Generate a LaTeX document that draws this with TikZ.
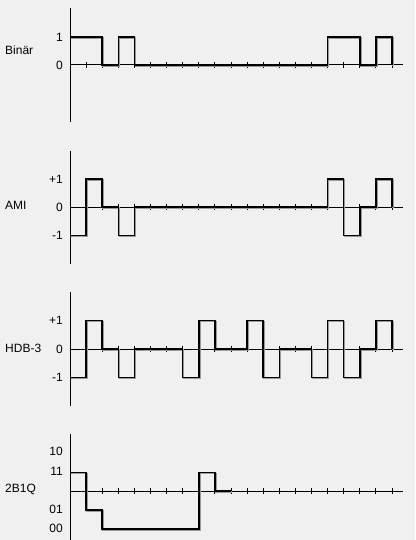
\documentclass[tikz,border=0pt]{standalone}
\usepackage{fontspec}
\setmainfont{Liberation Sans}
\usepackage{tikz}
\usetikzlibrary{positioning}
\definecolor{bgcol}{HTML}{F0F0F0}
\definecolor{shadecol}{HTML}{9A9A9A}

% line code with its grey shadow
\newcommand{\signal}[1]{\draw[sigshade, shift={(1,1)}] #1; \draw[sig] #1;}

\begin{document}
\begin{tikzpicture}[
    x=1pt, y=-1pt,
    axis/.style={line width=1pt, black},
    sig/.style={line width=1.5pt, black},
    sigshade/.style={line width=1.5pt, shadecol},
    lvl/.style={anchor=east, inner sep=0pt, font=\fontsize{12}{14}\selectfont},
    title/.style={anchor=west, inner sep=0pt, font=\fontsize{12}{14}\selectfont},
]

\fill[bgcol] (0,0) rectangle (415,540);
\useasboundingbox (0,0) rectangle (415,540);

% Binary
\begin{scope}[shift={(70,65)}]
\draw[axis] (0,-57) -- (0,57);
\draw[axis] (0,0) -- (333,0);
\foreach \k in {1,...,20} \draw[axis] ({16.1*\k},-3) -- ({16.1*\k},3);
\node[title] (bin) at (-65,-15) {Binär};
\node[lvl] (bin-one) at (-7,-28) {1};
\node[lvl] (bin-zero) at (-7,0) {0};
\signal{(0,-28) -| (32.2,0) -| (48.3,-28) -| (64.4,0) -| (257.6,-28) -| (289.8,0) -| (305.9,-28) -| (322,0)}
\end{scope}

% AMI
\begin{scope}[shift={(70,207)}]
\draw[axis] (0,-56) -- (0,57);
\draw[axis] (0,0) -- (333,0);
\foreach \k in {1,...,20} \draw[axis] ({16.1*\k},-3) -- ({16.1*\k},3);
\node[title] (ami) at (-65,-2) {AMI};
\node[lvl] (ami-plus) at (-7,-28) {+1};
\node[lvl] (ami-zero) at (-7,0) {0};
\node[lvl] (ami-minus) at (-7,28.7) {-1};
\signal{(0,28.7) -| (16.1,-28) -| (32.2,0) -| (48.3,28.7) -| (64.4,0) -| (257.6,-28) -| (273.7,28.7) -| (289.8,0) -| (305.9,-28) -| (322,0)}
\end{scope}

% HDB-3
\begin{scope}[shift={(70,349)}]
\draw[axis] (0,-57) -- (0,57);
\draw[axis] (0,0) -- (333,0);
\foreach \k in {1,...,20} \draw[axis] ({16.1*\k},-3) -- ({16.1*\k},3);
\node[title] (hdb) at (-65,-1) {HDB-3};
\node[lvl] (hdb-plus) at (-7,-28.3) {+1};
\node[lvl] (hdb-zero) at (-7,0) {0};
\node[lvl] (hdb-minus) at (-7,28.7) {-1};
\signal{(0,28.7) -| (16.1,-28.3) -| (32.2,0) -| (48.3,28.7) -| (64.4,0) -| (112.7,28.7) -| (128.8,-28.3) -| (144.9,0) -| (177.1,-28.3) -| (193.2,28.7) -| (209.3,0) -| (241.5,28.7) -| (257.6,-28.3) -| (273.7,28.7) -| (289.8,0) -| (305.9,-28.3) -| (322,0)}
\end{scope}

% 2B1Q
\begin{scope}[shift={(70,491)}]
\draw[axis] (0,-57) -- (0,52);
\draw[axis] (0,0) -- (333,0);
\foreach \k in {1,...,20} \draw[axis] ({16.1*\k},-3) -- ({16.1*\k},3);
\node[title] (tbq) at (-65,-2) {2B1Q};
\node[lvl] (tbq-ten) at (-7,-39.3) {10};
\node[lvl] (tbq-eleven) at (-7,-19.5) {11};
\node[lvl] (tbq-one) at (-7,18.5) {01};
\node[lvl] (tbq-zero) at (-7,37.5) {00};
\signal{(0,-18.7) -| (16.1,19) -| (32.2,38) -| (128.8,-18.7) -| (144.9,0) -- (161,0)}
\end{scope}

\end{tikzpicture}
\end{document}
